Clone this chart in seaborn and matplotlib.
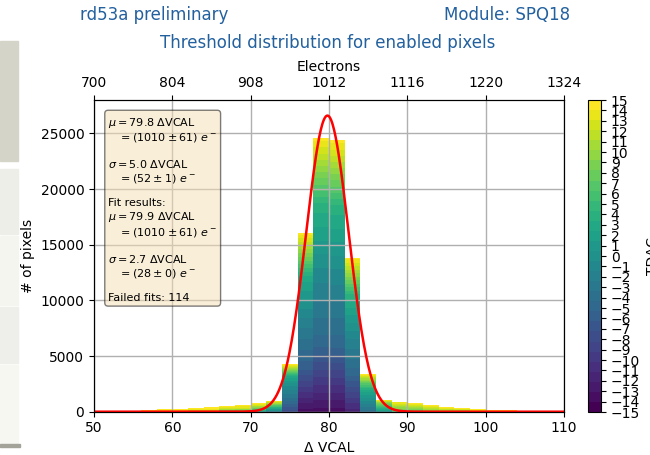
import numpy as np
import pandas as pd
import matplotlib
matplotlib.use("Agg")
import matplotlib.pyplot as plt
import seaborn as sns
from matplotlib.patches import Rectangle
from matplotlib.colors import ListedColormap, Normalize
from matplotlib.cm import ScalarMappable

# ---------------- data ----------------
bin_edges = list(range(50, 111, 2))
bin_left = list(range(50, 110, 2))
pixel_counts = [30, 60, 90, 150, 210, 240, 360, 420, 510, 600, 750, 990,
                4270, 16080, 24580, 24370, 13850, 3350,
                1080, 900, 750, 620, 390, 300, 240, 150, 120, 90, 60, 40]

# TDAC value found at bottom / 25% / 50% / 75% / top of each stacked bar
tdac_bottom = [12, 12, 12, 12, 12, 12, 10, 10, 5, 5, 2, -2,
               -8, -14, -14, -14, -12, -4, 0, 6, 6, 8, 8, 8, 9, 9, 9, 9, 9, 9]
tdac_q1 = [14, 14, 14, 14, 14, 14, 13, 13, 9, 9, 6, 2,
           -4, -6, -5, -5, -5, -1, 4, 9, 9, 11, 11, 11, 12, 12, 12, 12, 12, 12]
tdac_median = [15, 15, 15, 15, 15, 15, 14, 14, 13, 13, 10, 6,
               -1, -2, -1, -1, -1, 2, 7, 11, 11, 12, 12, 12, 14, 14, 14, 14, 14, 14]
tdac_q3 = [15, 15, 15, 15, 15, 15, 15, 15, 14, 14, 13, 11,
           3, 3, 4, 4, 4, 7, 10, 13, 13, 14, 14, 14, 15, 15, 15, 15, 15, 15]
tdac_top = [15] * 30
tdac_levels = list(range(-15, 16))

fit_amplitude = 26600
fit_curve_mu = 79.8
fit_curve_sigma = 2.7

mean_vcal, mean_e, mean_e_err = 79.8, 1010, 61
sigma_vcal, sigma_e, sigma_e_err = 5.0, 52, 1
fit_mu_vcal, fit_mu_e, fit_mu_e_err = 79.9, 1010, 61
fit_sigma_vcal, fit_sigma_e, fit_sigma_e_err = 2.7, 28, 0
failed_fits = 114

x_ticks = [50, 60, 70, 80, 90, 100, 110]
electron_labels = ["700", "804", "908", "1012", "1116", "1220", "1324"]
y_ticks = [0, 5000, 10000, 15000, 20000, 25000]

# ---------------- build stacked table ----------------
fr = np.array([0, 0.25, 0.5, 0.75, 1.0])
rows = []
for i, left in enumerate(bin_left):
    q = np.array([tdac_bottom[i], tdac_q1[i], tdac_median[i], tdac_q3[i], tdac_top[i]], float)
    q = q + np.arange(5) * 1e-6
    for t in tdac_levels:
        lo = np.interp(t - 0.5, q, fr, left=0, right=1)
        hi = np.interp(t + 0.5, q, fr, left=0, right=1)
        rows.append({"vcal": left + 1, "tdac": t, "count": pixel_counts[i] * (hi - lo)})
df = pd.DataFrame(rows)

vir = plt.get_cmap("viridis")
norm = Normalize(-15, 15)
pal = {t: vir(norm(t)) for t in tdac_levels}

# ---------------- figure ----------------
fig = plt.figure(figsize=(6.5, 4.55), dpi=100)

# grey screenshot fragments on the left edge
H = 455.0
def px_rect(x0, y0, w, h, c):
    fig.patches.append(Rectangle((x0 / 650, 1 - (y0 + h) / H), w / 650, h / H,
                                 transform=fig.transFigure, color=c, zorder=0))
px_rect(0, 41, 17.5, 120, "#d4d5c8")
px_rect(0, 169, 17.5, 65, "#eeeee9")
px_rect(0, 236, 17.5, 69, "#f5f5f0")
px_rect(0, 307, 17.5, 56, "#eeeeea")
px_rect(0, 365, 17.5, 78, "#f7f7f2")
px_rect(0, 444, 20, 3, "#a3a39a")

ax = fig.add_axes([94 / 650, 1 - 411.7 / H, 470 / 650, 311.7 / H])

sns.histplot(data=df, x="vcal", weights="count", hue="tdac",
             hue_order=tdac_levels[::-1], palette=pal, multiple="stack",
             bins=bin_edges, element="bars", linewidth=0, alpha=1,
             legend=False, ax=ax)

xs = np.linspace(50, 110, 600)
ys = fit_amplitude * np.exp(-0.5 * ((xs - fit_curve_mu) / fit_curve_sigma) ** 2)
ax.plot(xs, ys, color="red", lw=1.8, zorder=4)

ax.set_xlim(50, 110)
ax.set_ylim(0, 28000)
ax.set_xticks(x_ticks)
ax.set_yticks(y_ticks)
ax.set_xlabel("Δ VCAL")
ax.set_ylabel("# of pixels")
ax.grid(True, color="#b0b0b0", lw=1.0)
ax.set_axisbelow(False)

ax2 = ax.twiny()
ax2.set_xlim(50, 110)
ax2.set_xticks(x_ticks)
ax2.set_xticklabels(electron_labels)
ax2.set_xlabel("Electrons")

txt = "\n".join([
    r"$\mu = %.1f$ ΔVCAL" % mean_vcal,
    r"   $= (%d \pm %d)\ e^-$" % (mean_e, mean_e_err),
    "",
    r"$\sigma = %.1f$ ΔVCAL" % sigma_vcal,
    r"   $= (%d \pm %d)\ e^-$" % (sigma_e, sigma_e_err),
    "",
    "Fit results:",
    r"$\mu = %.1f$ ΔVCAL" % fit_mu_vcal,
    r"   $= (%d \pm %d)\ e^-$" % (fit_mu_e, fit_mu_e_err),
    "",
    r"$\sigma = %.1f$ ΔVCAL" % fit_sigma_vcal,
    r"   $= (%d \pm %d)\ e^-$" % (fit_sigma_e, fit_sigma_e_err),
    "",
    "Failed fits: %d" % failed_fits,
])
ax.text(0.03, 0.95, txt, transform=ax.transAxes, fontsize=8, va="top", ha="left",
        bbox=dict(boxstyle="round", facecolor="wheat", alpha=0.5), zorder=5)

cax = fig.add_axes([588 / 650, 1 - 412 / H, 13 / 650, 312 / H])
cmap31 = ListedColormap([pal[t] for t in tdac_levels])
sm = ScalarMappable(norm=norm, cmap=cmap31)
cb = fig.colorbar(sm, cax=cax, ticks=tdac_levels)
cb.set_label("TDAC")

title_c = "#22609e"
fig.text(80 / 650, 1 - 15 / H, "rd53a preliminary", color=title_c, fontsize=12, ha="left", va="center")
fig.text(570 / 650, 1 - 15 / H, "Module: SPQ18", color=title_c, fontsize=12, ha="right", va="center")
fig.text(328 / 650, 1 - 43 / H, "Threshold distribution for enabled pixels", color=title_c,
         fontsize=12, ha="center", va="center")

fig.savefig("out.png", dpi=100)
